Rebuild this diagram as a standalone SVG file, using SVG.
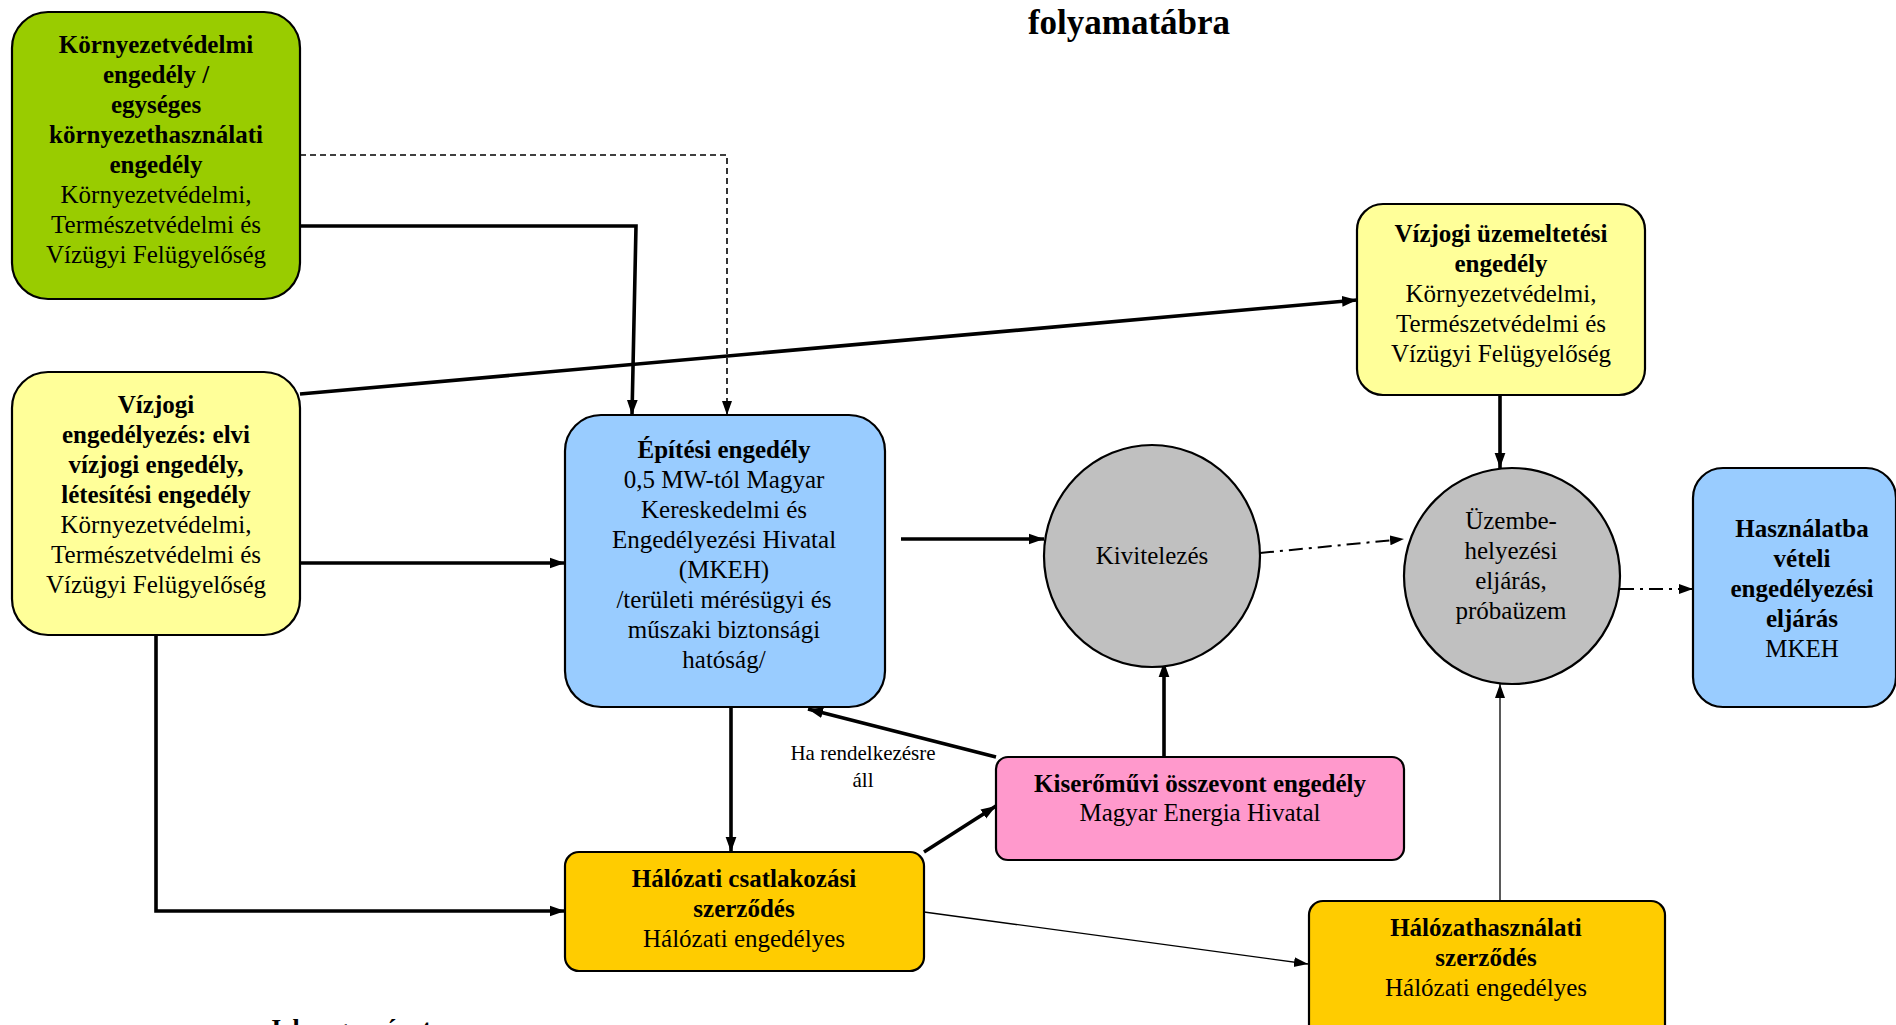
<svg xmlns="http://www.w3.org/2000/svg" width="1896" height="1025" viewBox="0 0 1896 1025">
<defs>
<style>
.box{stroke:#000;stroke-width:2.2}
text{font-family:"Liberation Serif","Times New Roman",serif;font-size:25px;fill:#000;text-anchor:middle}
.b{font-weight:bold}
.thick{stroke:#000;stroke-width:3.6;fill:none}
.thin{stroke:#000;stroke-width:1.3;fill:none}
.dash{stroke:#000;stroke-width:1.6;fill:none;stroke-dasharray:6,4}
.dd{stroke:#000;stroke-width:2;fill:none;stroke-dasharray:14,6,3,6}
</style>
<marker id="arr" viewBox="0 0 14 10" refX="14" refY="5" markerWidth="15" markerHeight="12" markerUnits="userSpaceOnUse" orient="auto">
<path d="M0,0 L14,5 L0,10 z" fill="#000"/>
</marker>
<marker id="arrs" viewBox="0 0 14 10" refX="14" refY="5" markerWidth="14" markerHeight="11" markerUnits="userSpaceOnUse" orient="auto">
<path d="M0,0 L14,5 L0,10 z" fill="#000"/>
</marker>
</defs>
<rect width="1896" height="1025" fill="#fff"/>

<text id="title" class="b" x="1129" y="34" style="font-size:35px">folyamatábra</text>

<g id="connectors">
<polyline class="thick" points="300,226 636,226 632,415" marker-end="url(#arr)"/>
<polyline class="dash" points="300,155 727,155 727,415" marker-end="url(#arrs)"/>
<line class="thick" x1="300" y1="394" x2="1357" y2="300" marker-end="url(#arr)"/>
<line class="thick" x1="300" y1="563" x2="565" y2="563" marker-end="url(#arr)"/>
<polyline class="thick" points="156,635 156,911 565,911" marker-end="url(#arr)"/>
<line class="thick" x1="901" y1="539" x2="1044" y2="539" marker-end="url(#arr)"/>
<line class="dd" x1="1260" y1="553" x2="1404" y2="539" marker-end="url(#arrs)"/>
<line class="dd" x1="1620" y1="589" x2="1693" y2="589" marker-end="url(#arrs)"/>
<line class="thick" x1="1500" y1="395" x2="1500" y2="468" marker-end="url(#arr)"/>
<line class="thin" x1="1500" y1="901" x2="1500" y2="684" marker-end="url(#arrs)"/>
<line class="thick" x1="731" y1="707" x2="731" y2="852" marker-end="url(#arr)"/>
<line class="thick" x1="996" y1="757" x2="808" y2="709" marker-end="url(#arr)"/>
<line class="thick" x1="924" y1="852" x2="996" y2="806" marker-end="url(#arr)"/>
<line class="thick" x1="1164" y1="757" x2="1164" y2="662" marker-end="url(#arr)"/>
<line class="thin" x1="924" y1="912" x2="1308" y2="964" marker-end="url(#arrs)"/>
<text x="863" y="760" style="font-size:21px">Ha rendelkezésre</text>
<text x="863" y="787" style="font-size:21px">áll</text>
</g>

<g id="n-kornyezet">
<rect class="box" x="12" y="12" width="288" height="287" rx="36" fill="#99CC00"/>
<text class="b" x="156" y="53">Környezetvédelmi</text>
<text class="b" x="156" y="83">engedély /</text>
<text class="b" x="156" y="113">egységes</text>
<text class="b" x="156" y="143">környezethasználati</text>
<text class="b" x="156" y="173">engedély</text>
<text x="156" y="203">Környezetvédelmi,</text>
<text x="156" y="233">Természetvédelmi és</text>
<text x="156" y="263">Vízügyi Felügyelőség</text>
</g>

<g id="n-vizjogi">
<rect class="box" x="12" y="372" width="288" height="263" rx="36" fill="#FFFF99"/>
<text class="b" x="156" y="413">Vízjogi</text>
<text class="b" x="156" y="443">engedélyezés: elvi</text>
<text class="b" x="156" y="473">vízjogi engedély,</text>
<text class="b" x="156" y="503">létesítési engedély</text>
<text x="156" y="533">Környezetvédelmi,</text>
<text x="156" y="563">Természetvédelmi és</text>
<text x="156" y="593">Vízügyi Felügyelőség</text>
</g>

<g id="n-epitesi">
<rect class="box" x="565" y="415" width="320" height="292" rx="36" fill="#99CCFF"/>
<text class="b" x="724" y="458">Építési engedély</text>
<text x="724" y="488">0,5 MW-tól Magyar</text>
<text x="724" y="518">Kereskedelmi és</text>
<text x="724" y="548">Engedélyezési Hivatal</text>
<text x="724" y="578">(MKEH)</text>
<text x="724" y="608">/területi mérésügyi és</text>
<text x="724" y="638">műszaki biztonsági</text>
<text x="724" y="668">hatóság/</text>
</g>

<g id="n-uzemeltetesi">
<rect class="box" x="1357" y="204" width="288" height="191" rx="26" fill="#FFFF99"/>
<text class="b" x="1501" y="242">Vízjogi üzemeltetési</text>
<text class="b" x="1501" y="272">engedély</text>
<text x="1501" y="302">Környezetvédelmi,</text>
<text x="1501" y="332">Természetvédelmi és</text>
<text x="1501" y="362">Vízügyi Felügyelőség</text>
</g>

<g id="n-kivitelezes">
<ellipse class="box" cx="1152" cy="556" rx="108" ry="111" fill="#C0C0C0"/>
<text x="1152" y="564">Kivitelezés</text>
</g>

<g id="n-uzembe">
<ellipse class="box" cx="1512" cy="576" rx="108" ry="108" fill="#C0C0C0"/>
<text x="1511" y="529">Üzembe-</text>
<text x="1511" y="559">helyezési</text>
<text x="1511" y="589">eljárás,</text>
<text x="1511" y="619">próbaüzem</text>
</g>

<g id="n-hasznalatba">
<rect class="box" x="1693" y="468" width="203" height="239" rx="30" fill="#99CCFF"/>
<text class="b" x="1802" y="537">Használatba</text>
<text class="b" x="1802" y="567">vételi</text>
<text class="b" x="1802" y="597">engedélyezési</text>
<text class="b" x="1802" y="627">eljárás</text>
<text x="1802" y="657">MKEH</text>
</g>

<g id="n-kiseromuvi">
<rect class="box" x="996" y="757" width="408" height="103" rx="12" fill="#FF99CC"/>
<text class="b" x="1200" y="792">Kiserőművi összevont engedély</text>
<text x="1200" y="821">Magyar Energia Hivatal</text>
</g>

<g id="n-csatlakozasi">
<rect class="box" x="565" y="852" width="359" height="119" rx="14" fill="#FFCC00"/>
<text class="b" x="744" y="887">Hálózati csatlakozási</text>
<text class="b" x="744" y="917">szerződés</text>
<text x="744" y="947">Hálózati engedélyes</text>
</g>

<g id="n-halozathasznalati">
<rect class="box" x="1309" y="901" width="356" height="150" rx="14" fill="#FFCC00"/>
<text class="b" x="1486" y="936">Hálózathasználati</text>
<text class="b" x="1486" y="966">szerződés</text>
<text x="1486" y="996">Hálózati engedélyes</text>
</g>

<text id="legend" class="b" x="268" y="1037" style="text-anchor:start;font-size:26px">Jelmagyarázat</text>
</svg>
